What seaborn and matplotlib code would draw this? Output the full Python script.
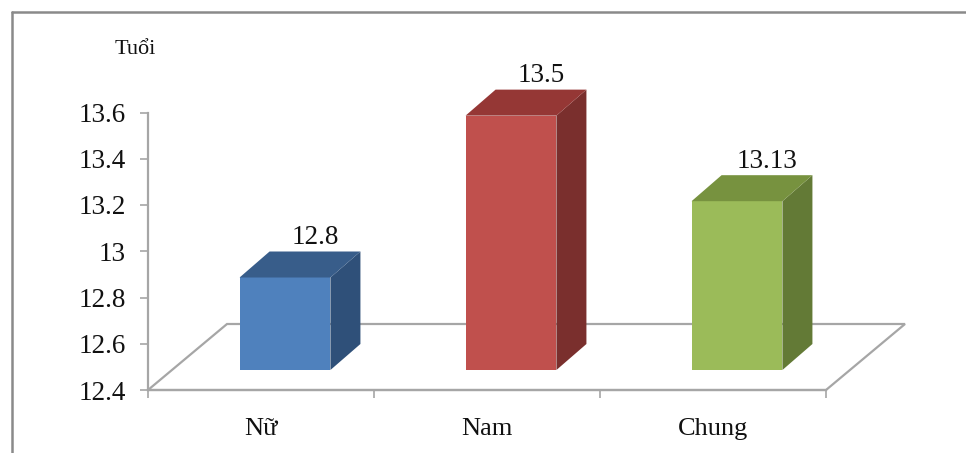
import matplotlib
matplotlib.use("Agg")
import matplotlib.pyplot as plt
from matplotlib.lines import Line2D
from matplotlib.patches import Polygon, Rectangle
import seaborn as sns

categories = ["Nữ", "Nam", "Chung"]
values = [12.8, 13.5, 13.13]
value_labels = ["12.8", "13.5", "13.13"]
y_ticks = [12.4, 12.6, 12.8, 13.0, 13.2, 13.4, 13.6]
y_tick_labels = ["12.4", "12.6", "12.8", "13", "13.2", "13.4", "13.6"]
front_colors = ["#4F81BD", "#C0504D", "#9BBB59"]
side_colors = ["#2F5079", "#7A2F2D", "#637A36"]
top_colors = ["#385D8A", "#953735", "#77923F"]

W, H = 966, 453
sns.set_theme(style="white")
plt.rcParams["font.family"] = ["Liberation Serif", "DejaVu Serif"]
text_color = "#111111"

fig = plt.figure(figsize=(W / 100, H / 100), dpi=100, facecolor="white")
ax = fig.add_axes([148 / W, 1 - 390 / H, (826 - 148) / W, (390 - 112.5) / H])

sns.barplot(x=categories, y=values, hue=categories, palette=front_colors,
            width=0.402, legend=False, saturation=1, ax=ax, zorder=3)
ax.set_xlim(-0.5, 2.5)
ax.set_ylim(y_ticks[0], y_ticks[-1])

# Oblique projection: horizontal depth in category units, vertical depth in years
x_unit = (826 - 148) / 3
y_unit = (390 - 112.5) / 1.2
base = y_ticks[0]
floor_dx, floor_dy = 79 / x_unit, 66 / y_unit
depth_dx, depth_dy = 30 / x_unit, 26 / y_unit
shift_x, shift_y = 24 / x_unit, 20 / y_unit

grey = "#A6A6A6"
floor = Polygon([(-0.5, base), (2.5, base), (2.5 + floor_dx, base + floor_dy),
                 (-0.5 + floor_dx, base + floor_dy)], closed=True, fill=False,
                edgecolor=grey, lw=1.6, clip_on=False, zorder=1)
ax.add_patch(floor)

bars = [p for p in ax.patches if isinstance(p, Rectangle)]
for bar, value, label, side, top in zip(bars, values, value_labels, side_colors, top_colors):
    # Lift each bar onto the floor and extend it from the axis base to its value
    x0 = bar.get_x() + shift_x
    x1 = x0 + bar.get_width()
    y0 = base + shift_y
    y1 = value + shift_y
    bar.set_x(x0)
    bar.set_y(y0)
    bar.set_height(value - base)
    bar.set_edgecolor("none")
    bar.set_linewidth(0)
    bar.set_clip_on(False)
    ax.add_patch(Polygon([(x1, y0), (x1 + depth_dx, y0 + depth_dy),
                          (x1 + depth_dx, y1 + depth_dy), (x1, y1)], closed=True,
                         facecolor=side, edgecolor="none", clip_on=False, zorder=3))
    ax.add_patch(Polygon([(x0, y1), (x1, y1), (x1 + depth_dx, y1 + depth_dy),
                          (x0 + depth_dx, y1 + depth_dy)], closed=True,
                         facecolor=top, edgecolor="none", clip_on=False, zorder=3))
    ax.annotate(label, ((x0 + x1) / 2 + depth_dx, y1 + depth_dy), xytext=(0, 1),
                textcoords="offset points", ha="center", va="bottom",
                fontsize=19.5, color=text_color, zorder=4, annotation_clip=False)

ax.set_xticks([-0.5, 0.5, 1.5, 2.5], minor=False, labels=[])
ax.set_xticks([0, 1, 2], labels=categories, minor=True)
ax.set_yticks(y_ticks, labels=y_tick_labels)
ax.tick_params(axis="both", which="major", length=6, width=1.2, color=grey,
               left=True, bottom=True)
ax.tick_params(axis="y", labelsize=19.5, labelcolor=text_color, pad=10)
ax.tick_params(axis="x", which="minor", length=0, labelsize=19,
               labelcolor=text_color, pad=20)
ax.set_xlabel("")
ax.set_ylabel("")
for name in ("top", "right"):
    ax.spines[name].set_visible(False)
for name in ("left", "bottom"):
    ax.spines[name].set_color(grey)
    ax.spines[name].set_linewidth(1.6)

fig.text(135.5 / W, 1 - 49 / H, "Tuổi", fontsize=16, color=text_color,
         ha="center", va="center")

# Frame lines along the chart's top and left edges
frame_x, frame_y = 11.5 / W, 1 - 11.5 / H
for xs, ys in (([frame_x, 1], [frame_y, frame_y]), ([frame_x, frame_x], [frame_y, 0])):
    fig.add_artist(Line2D(xs, ys, transform=fig.transFigure, color="#8A8A8A", lw=1.8))

fig.savefig("out.png", dpi=100)
